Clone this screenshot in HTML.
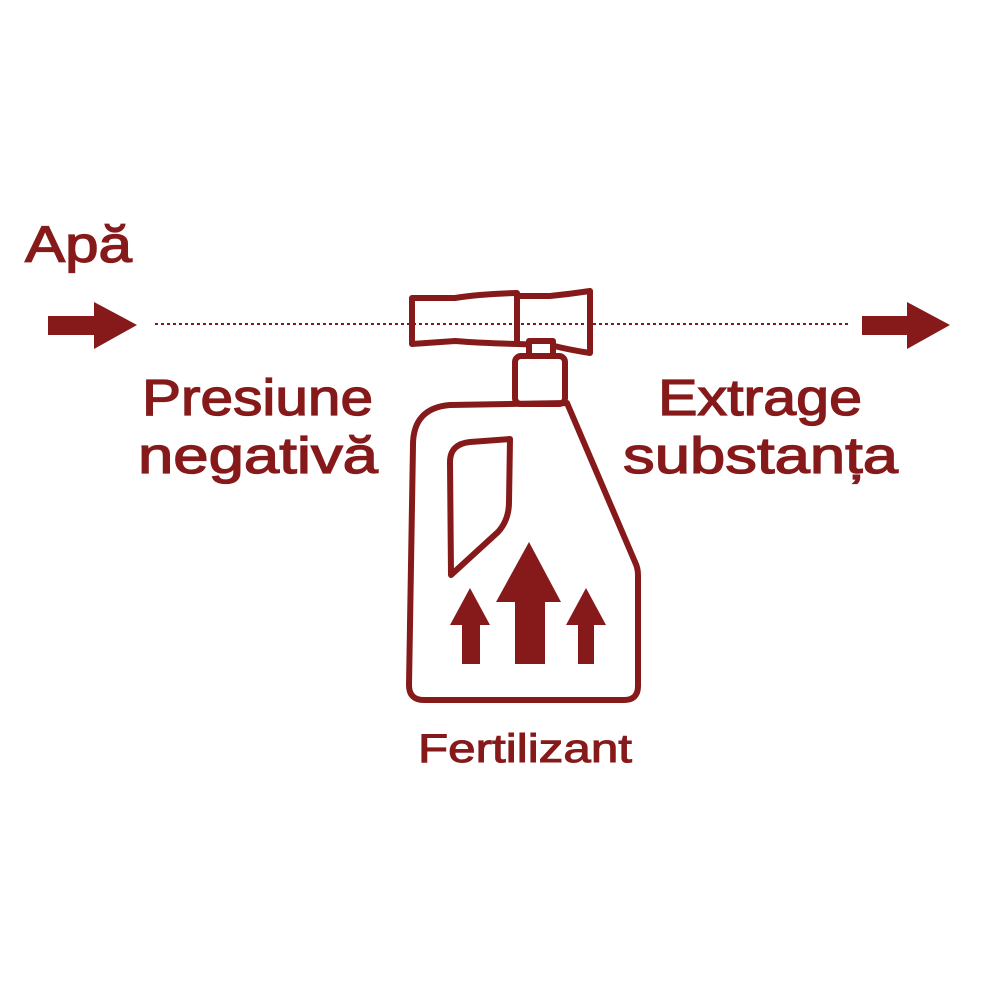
<!DOCTYPE html>
<html><head><meta charset="utf-8"><style>html,body{margin:0;padding:0;background:#fff}svg{display:block}</style></head>
<body>
<svg width="1000" height="1000" viewBox="0 0 1000 1000" xmlns="http://www.w3.org/2000/svg">
<g fill="#861a1a" stroke="#861a1a" stroke-width="1.3" font-family="Liberation Sans, sans-serif" font-size="51">
<text x="25" y="262" textLength="107" lengthAdjust="spacingAndGlyphs">Apă</text>
<text x="142" y="415" textLength="231" lengthAdjust="spacingAndGlyphs">Presiune</text>
<text x="138" y="473" textLength="240" lengthAdjust="spacingAndGlyphs">negativă</text>
<text x="658" y="415" textLength="204" lengthAdjust="spacingAndGlyphs">Extrage</text>
<text x="623" y="473" textLength="275" lengthAdjust="spacingAndGlyphs">substanța</text>
<text x="418" y="762" font-size="40" stroke-width="1" textLength="214" lengthAdjust="spacingAndGlyphs">Fertilizant</text>
</g>
<g fill="#861a1a">
<polygon points="48,316 94,316 94,302 137,325 94,349 94,335 48,335"/>
<polygon points="862,316 907,316 907,302 950,325 907,349 907,335 862,335"/>
<polygon points="529,542 561,602 545,602 545,664 515,664 515,602 496,602"/>
<polygon points="470,588 490,625 480,625 480,664 462,664 462,625 450,625"/>
<polygon points="586,588 606,625 594,625 594,664 578,664 578,625 566,625"/>
</g>
<line x1="155" y1="324" x2="850" y2="324" stroke="#861a1a" stroke-width="2" stroke-dasharray="3,3"/>
<g fill="none" stroke="#861a1a" stroke-width="6" stroke-linejoin="round">
<path d="M412,298 L455,298 Q480,294 517,293 L517,344 Q480,343 455,341 L412,344 Z"/>
<path d="M517,296 L550,296 Q570,294 590,291 L590,353 Q570,350 550,345 L517,344"/>
<rect x="529" y="341" width="24" height="15" fill="#fff"/>
<rect x="515" y="356" width="50" height="48" rx="6" fill="#fff"/>
<path d="M567,403 L450,405 Q413,408 413,445 L409,685 Q409,700 424,700 L624,700 Q638,700 638,686 L638,575 Q638,568 635,562 Z"/>
<path d="M510,439 L470,442 Q450,444 450,462 L451,575 L498,532 Q509,520 509,502 Z"/>
</g>
</svg>
</body></html>
